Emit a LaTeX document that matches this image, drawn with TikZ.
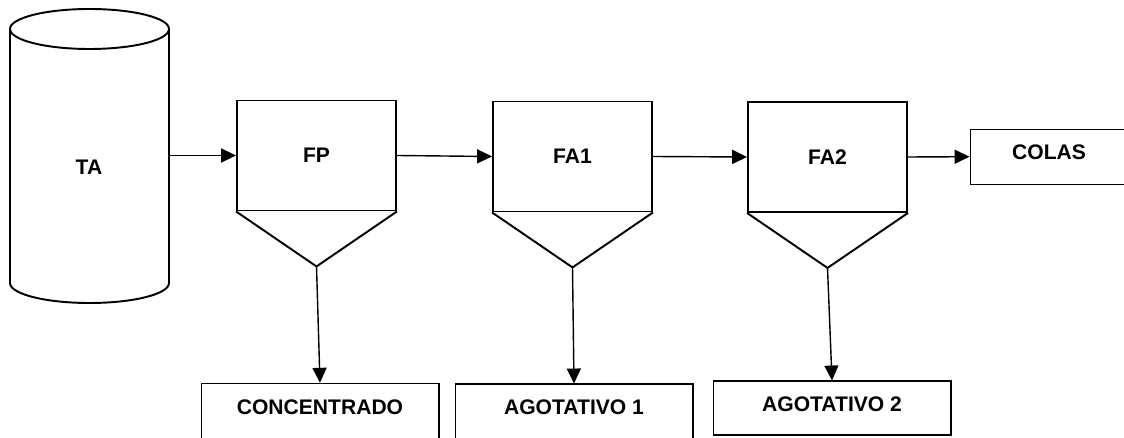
\documentclass[tikz,border=0pt]{standalone}
\usepackage{fontspec}
\setmainfont{Liberation Sans}
\usepackage{tikz}
\usetikzlibrary{arrows.meta}

\begin{document}
\begin{tikzpicture}[x=0.02cm,y=0.02cm,
		font=\fontsize{12}{14}\selectfont\bfseries,
		tank/.style={line width=1.1pt,line join=round},
		cell/.style={draw,line width=1.1pt,minimum width=3.18cm,minimum height=2.2cm},
		product/.style={draw,line width=0.6pt,minimum width=4.76cm,minimum height=1.08cm,text depth=0.14cm},
		flow/.style={line width=0.8pt,-{Triangle[length=8.5pt,width=8pt]}}]
		\useasboundingbox (0,0) rectangle (1124,-438);
		\draw[tank] (10,-29) -- (10,-283) arc[start angle=180,end angle=360,x radius=79.5,y radius=20] -- (169,-29);
		\draw[tank] (89.5,-29) ellipse [x radius=79.5,y radius=20];
		\node (ta) at (89,-167) {TA};
		\coordinate (taout) at (169,-155.5);
		\node[cell] (fp) at (316.5,-155.5) {FP};
		\node[cell] (fa1) at (572.5,-156.5) {FA1};
		\node[cell] (fa2) at (827.5,-157) {FA2};
		\foreach \c in {fp,fa1,fa2}
			\draw[tank] (\c.south west) -- ([yshift=-1.1cm]\c.south) coordinate (\c v) -- (\c.south east);
		\node[product,minimum height=1.34cm,text depth=0.4cm] (conc) at (320,-416.8) {CONCENTRADO};
		\node[product,minimum height=1.34cm,text depth=0.4cm] (ag1) at (574,-417.5) {AGOTATIVO 1};
		\node[product] (ag2) at (832,-408) {AGOTATIVO 2};
		\node[product,minimum width=3.16cm,minimum height=1.1cm,text depth=0.2cm] (colas) at (1049,-156.7) {COLAS};
		\draw[flow] (taout) -- (fp.west);
		\draw[flow] (fp.east) -- (fa1.west);
		\draw[flow] (fa1.east) -- (fa2.west);
		\draw[flow] (fa2.east) -- (colas.west);
		\draw[flow] (fpv) -- (conc.north);
		\draw[flow] (fa1v) -- (ag1.north);
		\draw[flow] (fa2v) -- (ag2.north);
	\end{tikzpicture}
\end{document}
